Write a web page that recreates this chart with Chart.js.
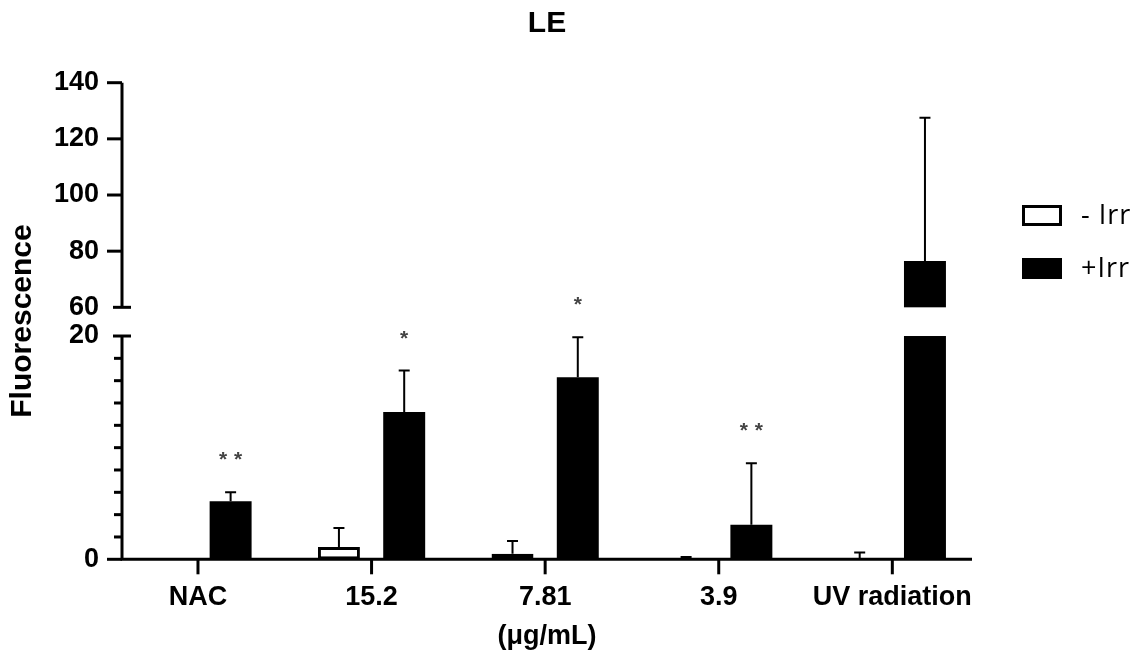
<!DOCTYPE html>
<html>
<head>
<meta charset="utf-8">
<script src="https://cdn.jsdelivr.net/npm/chart.js@4.4.0/dist/chart.umd.min.js"></script>
<style>
html,body{margin:0;padding:0;background:#fff;}
canvas{display:block;}
</style>
</head>
<body>
<canvas id="c" width="1146" height="662"></canvas>
<script>
// ---------- data ----------
const categories   = ['NAC', '15.2', '7.81', '3.9', 'UV radiation'];
const minusIrr     = [0, 1.1, 0.5, 0, 0];
const minusIrrSD   = [0, 1.7, 1.15, 0.2, 0.6];
const plusIrr      = [5.2, 13.2, 16.3, 3.1, 76.5];
const plusIrrSD    = [0.8, 3.7, 3.6, 5.5, 51];
const significance = ['**', '*', '*', '**', ''];
const yTicksLower  = [0, 2, 4, 6, 8, 10, 12, 14, 16, 18, 20];
const yTicksUpper  = [60, 80, 100, 120, 140];
const yLabelled    = [0, 20, 60, 80, 100, 120, 140];
const seriesLabels = ['- Irr', '+Irr'];

// ---------- broken-axis scale ----------
const LOW_FRAC = 0.4685, GAP_FRAC = 0.0602;
const LOW_MAX = yTicksLower[yTicksLower.length - 1];
const HIGH_MIN = yTicksUpper[0];

class BrokenLinearScale extends Chart.LinearScale {
  _parts() {
    const H = this.bottom - this.top;
    const lowH = H * LOW_FRAC, gapH = H * GAP_FRAC;
    return { lowH, gapH, upH: H - lowH - gapH };
  }
  getPixelForValue(value) {
    if (value === null || value === undefined || isNaN(value)) return NaN;
    const { lowH, gapH, upH } = this._parts();
    const min = this.min, max = this.max;
    if (value <= LOW_MAX) return this.bottom - (value - min) / (LOW_MAX - min) * lowH;
    if (value <= HIGH_MIN) return this.bottom - lowH - (value - LOW_MAX) / (HIGH_MIN - LOW_MAX) * gapH;
    return this.bottom - lowH - gapH - (value - HIGH_MIN) / (max - HIGH_MIN) * upH;
  }
  getValueForPixel(pixel) {
    const { lowH, gapH, upH } = this._parts();
    const d = this.bottom - pixel;
    if (d <= lowH) return this.min + d / lowH * (LOW_MAX - this.min);
    if (d <= lowH + gapH) return LOW_MAX + (d - lowH) / gapH * (HIGH_MIN - LOW_MAX);
    return HIGH_MIN + (d - lowH - gapH) / upH * (this.max - HIGH_MIN);
  }
}
BrokenLinearScale.id = 'brokenLinear';
Chart.register(BrokenLinearScale);

Chart.defaults.font.family = "'Liberation Sans', Arial, Helvetica, sans-serif";
Chart.defaults.color = '#000';

const errors = [minusIrrSD, plusIrrSD];

// ---------- decorations plugin ----------
const decor = {
  id: 'decor',
  afterDatasetsDraw(chart) {
    const { ctx, chartArea: ca, scales: { x, y } } = chart;
    const pHigh = y.getPixelForValue(HIGH_MIN);
    const pLow = y.getPixelForValue(LOW_MAX);
    const p0 = y.getPixelForValue(0);
    ctx.save();
    // gap mask (axis break)
    ctx.fillStyle = '#fff';
    ctx.fillRect(ca.left - 4, pHigh, ca.right - ca.left + 8, pLow - pHigh);

    // error bars
    ctx.strokeStyle = '#000';
    ctx.lineWidth = 2;
    chart.data.datasets.forEach((ds, d) => {
      const meta = chart.getDatasetMeta(d);
      ds.data.forEach((pt, j) => {
        const e = errors[d][j];
        if (!e) return;
        const bx = meta.data[j].x;
        const yb = y.getPixelForValue(pt.y);
        const yt = y.getPixelForValue(pt.y + e);
        ctx.beginPath();
        ctx.moveTo(bx, yb); ctx.lineTo(bx, yt);
        ctx.moveTo(bx - 5.5, yt); ctx.lineTo(bx + 5.5, yt);
        ctx.stroke();
      });
    });

    // axes
    ctx.lineWidth = 3;
    ctx.lineCap = 'butt';
    ctx.beginPath();
    ctx.moveTo(ca.left, p0 + 1.5); ctx.lineTo(ca.left, pLow);
    ctx.moveTo(ca.left, pHigh); ctx.lineTo(ca.left, y.getPixelForValue(y.max));
    ctx.moveTo(ca.left - 1.5, p0); ctx.lineTo(ca.right, p0);
    ctx.stroke();

    // y ticks
    [...yTicksLower, ...yTicksUpper].forEach(v => {
      const py = y.getPixelForValue(v);
      let x0, x1;
      if (v === LOW_MAX || v === HIGH_MIN) { x0 = ca.left - 9; x1 = ca.left + 9; }
      else if (yLabelled.includes(v)) { x0 = ca.left - 15; x1 = ca.left; }
      else { x0 = ca.left - 8; x1 = ca.left; }
      ctx.beginPath(); ctx.moveTo(x0, py); ctx.lineTo(x1, py); ctx.stroke();
    });
    // x ticks
    categories.forEach((c, i) => {
      const px = x.getPixelForValue(i);
      ctx.beginPath(); ctx.moveTo(px, p0); ctx.lineTo(px, p0 + 15); ctx.stroke();
    });

    // significance stars
    const meta1 = chart.getDatasetMeta(1);
    ctx.fillStyle = '#444';
    ctx.font = "bold 21px 'Liberation Sans', Arial, sans-serif";
    ctx.textAlign = 'center';
    ctx.textBaseline = 'alphabetic';
    significance.forEach((s, j) => {
      if (!s) return;
      const bx = meta1.data[j].x;
      const yt = y.getPixelForValue(plusIrr[j] + plusIrrSD[j]);
      const cy = yt - 38;
      const n = s.length;
      for (let k = 0; k < n; k++) {
        ctx.fillText('*', bx + (k - (n - 1) / 2) * 15, cy + 12);
      }
    });
    ctx.restore();
  },
  afterDraw(chart) {
    const { ctx } = chart;
    ctx.save();
    chart.data.datasets.forEach((ds, i) => {
      const bx = 1022, by = 205 + i * 53, bw = 40, bh = 21;
      ctx.fillStyle = ds.backgroundColor;
      ctx.fillRect(bx, by, bw, bh);
      if (ds.borderWidth) {
        ctx.strokeStyle = ds.borderColor;
        ctx.lineWidth = ds.borderWidth;
        ctx.strokeRect(bx + ds.borderWidth / 2, by + ds.borderWidth / 2, bw - ds.borderWidth, bh - ds.borderWidth);
      }
      ctx.fillStyle = '#000';
      ctx.font = "27px 'Open Sans', 'Noto Sans', sans-serif";
      if ('letterSpacing' in ctx) ctx.letterSpacing = '1px';
      ctx.textAlign = 'left';
      ctx.textBaseline = 'middle';
      ctx.fillText(ds.label, 1081, by + bh / 2 + 1);
    });
    ctx.restore();
  }
};

new Chart(document.getElementById('c'), {
  type: 'bar',
  data: {
    datasets: [
      { label: seriesLabels[0], data: minusIrr.map((v, i) => ({ x: i, y: v })),
        backgroundColor: '#ffffff', borderColor: '#000000', borderWidth: 3, borderSkipped: false,
        categoryPercentage: 0.752, barPercentage: 0.643 },
      { label: seriesLabels[1], data: plusIrr.map((v, i) => ({ x: i, y: v })),
        backgroundColor: '#000000', borderColor: '#000000', borderWidth: 0,
        categoryPercentage: 0.752, barPercentage: 0.643 }
    ]
  },
  options: {
    responsive: false,
    animation: false,
    events: [],
    devicePixelRatio: 1,
    layout: { padding: { left: 0, right: 174, top: 0, bottom: 0 } },
    plugins: {
      legend: { display: false },
      tooltip: { enabled: false },
      title: { display: true, text: 'LE', fullSize: false, color: '#000',
               font: { size: 30, weight: 'bold' }, padding: { top: 6, bottom: 40.7 } }
    },
    scales: {
      x: {
        type: 'linear', min: -0.4377, max: 4.459, offset: false,
        grid: { display: false, drawTicks: false }, border: { display: false },
        afterBuildTicks: s => { s.ticks = categories.map((_, i) => ({ value: i })); },
        afterFit: s => { s.height = 102.7; },
        ticks: { autoSkip: false, maxRotation: 0, minRotation: 0, padding: 22, color: '#000',
                 font: { size: 27, weight: 'bold' }, callback: v => categories[v] ?? '' },
        title: { display: true, text: '(μg/mL)', color: '#000',
                 font: { size: 27, weight: 'bold' }, padding: { top: 0, bottom: 8.8 } }
      },
      y: {
        type: 'brokenLinear', min: 0, max: 140,
        grid: { display: false, drawTicks: false }, border: { display: false },
        afterBuildTicks: s => { s.ticks = [...yTicksLower, ...yTicksUpper].map(v => ({ value: v })); },
        afterFit: s => { s.width = 122; },
        ticks: { autoSkip: false, padding: 23, color: '#000', font: { size: 27, weight: 'bold' },
                 callback: v => yLabelled.includes(v) ? String(v) : '' },
        title: { display: true, text: 'Fluorescence', color: '#000',
                 font: { size: 30, weight: 'bold' }, padding: { top: 5, bottom: 0 } }
      }
    }
  },
  plugins: [decor]
});
</script>
</body>
</html>
